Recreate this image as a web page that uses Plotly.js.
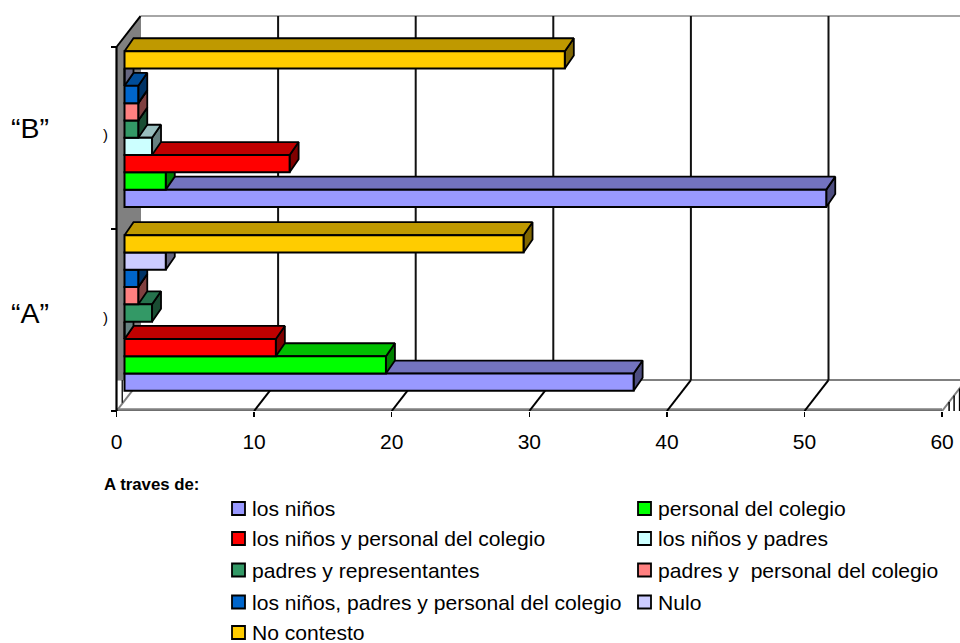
<!DOCTYPE html>
<html>
<head>
<meta charset="utf-8">
<script src="https://cdn.plot.ly/plotly-3.0.1.min.js"></script>
<style>html,body{margin:0;padding:0;background:#fff}</style>
</head>
<body>
<div id="chart" style="width:960px;height:643px"></div>
<script>
// Survey answers for two groups: positions on the category axis, then one array per answer [A, B]
const groupLabels = ['“A”', '“B”'];
const losNinos = [37, 51];
const personalColegio = [19, 3];
const ninosPersonal = [11, 12];
const ninosPadres = [0, 2];
const padresRepresentantes = [2, 1];
const padresPersonal = [1, 1];
const ninosPadresPersonal = [1, 1];
const nulo = [3, 0];
const noContesto = [29, 32];

const seriesNames = ['los niños', 'personal del colegio', 'los niños y personal del colegio',
  'los niños y padres', 'padres y representantes', 'padres y  personal del colegio',
  'los niños, padres y personal del colegio', 'Nulo', 'No contesto'];
const seriesValues = [losNinos, personalColegio, ninosPersonal, ninosPadres,
  padresRepresentantes, padresPersonal, ninosPadresPersonal, nulo, noContesto];
const seriesColors = ['#9999FF', '#00FF00', '#FF0000', '#CCFFFF', '#339966',
  '#FF8080', '#0066CC', '#CCCCFF', '#FFCC00'];
const xTicks = [0, 10, 20, 30, 40, 50, 60];

// Page and axis geometry
const W = 960, H = 643;
const plotBottom = 411;
const pxPerX = 13.76, pxPerY = 182;
const x0px = 116.5;
const xRange = [-x0px / pxPerX, (W - x0px) / pxPerX];
const yRange = [0, plotBottom / pxPerY];
const groupPos = [0.5385, 1.549];
const barThickness = 17.3 / pxPerY;
const wallDx = 24 / pxPerX, wallDy = 0.17;     // depth of the box
const barInset = 8 / pxPerX;                   // bars stand slightly inside the box
const barDx = 9 / pxPerX, barDy = 13 / pxPerY; // depth of each bar

const shade = (hex, f) => {
  const n = parseInt(hex.slice(1), 16);
  const c = [n >> 16, (n >> 8) & 255, n & 255].map(v => Math.round(v * f));
  return `rgb(${c[0]},${c[1]},${c[2]})`;
};

const segment = (xs, ys, color, width) => ({
  type: 'scatter', mode: 'lines', x: xs, y: ys, xaxis: 'x', yaxis: 'y',
  line: {color, width}, hoverinfo: 'skip', showlegend: false, cliponaxis: false
});

const polygons = (xs, ys, fill) => ({
  type: 'scatter', mode: 'lines', x: xs, y: ys, xaxis: 'x', yaxis: 'y', fill: 'toself',
  fillcolor: fill, line: {color: '#000', width: 1.8}, hoverinfo: 'skip', showlegend: false,
  cliponaxis: false
});

const traces = [];

// Box: grey side wall, back wall edges, floor
traces.push(polygons([0, 0, wallDx, wallDx, 0], [wallDy, 2, 2 + wallDy, wallDy, wallDy], '#808080'));
traces[0].line = {color: '#808080', width: 1};
const xEnd = 60 + wallDx;
traces.push(segment([wallDx, xEnd], [2 + wallDy, 2 + wallDy], '#A6A6A6', 2));
traces.push(segment([0, 60], [0.009, 0.009], '#808080', 2));
traces.push(segment([wallDx, xEnd], [wallDy, wallDy], '#808080', 2));
xTicks.forEach(v => {
  const edge = v === 0 || v === 60;
  traces.push(segment([v, v + wallDx], [0, wallDy], edge ? '#808080' : '#000', 2));
  if (!edge) traces.push(segment([v + wallDx, v + wallDx], [wallDy, 2 + wallDy], '#111', 2));
});
[7, 12, 17.5].forEach(px => {
  const d = px / pxPerX;
  traces.push(segment([60 + d, 60 + d], [0, wallDy * d / wallDx], '#000', 1.5));
});
traces.push(segment([0, 0], [0, 2], '#000', 2.2));
traces.push(segment([0, wallDx], [2, 2 + wallDy], '#000', 2));
traces.push(segment([0.42, 0.42], [wallDy, 0.045], '#222', 1.5));
traces.push(segment([0, 60], [-0.003, -0.003], '#000', 2.2));

// Top and side faces of every bar, lowest series first so higher ones overlap correctly
seriesValues.forEach((vals, s) => {
  const topX = [], topY = [], sideX = [], sideY = [];
  vals.forEach((v, g) => {
    const yb = groupPos[g] + (s - 4.5) * barThickness;
    const yt = yb + barThickness;
    const xl = barInset, xr = barInset + v;
    topX.push(xl, xl + barDx, xr + barDx, xr, xl, null);
    topY.push(yt, yt + barDy, yt + barDy, yt, yt, null);
    sideX.push(xr, xr + barDx, xr + barDx, xr, xr, null);
    sideY.push(yt, yt + barDy, yb + barDy, yb, yt, null);
  });
  traces.push(polygons(sideX, sideY, shade(seriesColors[s], 0.5)));
  traces.push(polygons(topX, topY, shade(seriesColors[s], 0.75)));
});

// Front faces as grouped bars on the overlaid axes
seriesValues.forEach((vals, s) => {
  traces.push({
    type: 'bar', orientation: 'h', name: seriesNames[s], x: vals, y: groupPos,
    xaxis: 'x2', yaxis: 'y2', marker: {color: seriesColors[s], line: {color: '#000', width: 2}},
    showlegend: false, hovertemplate: '%{x}<extra>' + seriesNames[s] + '</extra>'
  });
});

// Legend rows laid out in two columns, with a heading above
const legendCols = [232, 638];
const legendRows = [508.5, 538.5, 570, 602, 632.5];
const paperX = px => px / W;
const paperY = py => 1 - py / H;
const shapes = [];
const annotations = [];
seriesNames.forEach((name, i) => {
  const cx = legendCols[i % 2], cy = legendRows[Math.floor(i / 2)];
  shapes.push({
    type: 'rect', xref: 'paper', yref: 'paper', layer: 'above',
    x0: paperX(cx), x1: paperX(cx + 13), y0: paperY(cy - 6.5), y1: paperY(cy + 6.5),
    fillcolor: seriesColors[i], line: {color: '#000', width: 1.8}
  });
  annotations.push({
    xref: 'paper', yref: 'paper', x: paperX(cx + 21), y: paperY(cy), text: name,
    showarrow: false, xanchor: 'left', yanchor: 'middle', xshift: -3,
    font: {family: 'Liberation Sans, Arial, sans-serif', size: 21.1, color: '#000'}
  });
});
annotations.push({
  xref: 'paper', yref: 'paper', x: paperX(105), y: paperY(484), text: '<b>A traves de:</b>',
  showarrow: false, xanchor: 'left', yanchor: 'middle', xshift: -3,
  font: {family: 'Liberation Sans, Arial, sans-serif', size: 16.8, color: '#000'}
});
groupLabels.forEach((label, g) => {
  annotations.push({
    xref: 'paper', yref: 'paper', x: paperX(30), y: paperY(g === 0 ? 313 : 128), text: label,
    showarrow: false, xanchor: 'center', yanchor: 'middle',
    font: {family: 'Liberation Sans, Arial, sans-serif', size: 28.5, color: '#000'}
  });
  annotations.push({
    xref: 'paper', yref: 'paper', x: paperX(105), y: paperY(g === 0 ? 317 : 134), text: ')',
    showarrow: false, xanchor: 'center', yanchor: 'middle',
    font: {family: 'Liberation Sans, Arial, sans-serif', size: 15, color: '#000'}
  });
});

const yDomain = [(H - plotBottom) / H, 1];
const layout = {
  width: W, height: H, margin: {l: 0, r: 0, t: 0, b: 0},
  paper_bgcolor: '#fff', plot_bgcolor: 'rgba(0,0,0,0)', showlegend: false,
  barmode: 'group', bargap: 0.1534, bargroupgap: 0,
  font: {family: 'Liberation Sans, Arial, sans-serif', color: '#000'},
  xaxis: {
    range: xRange, tickvals: xTicks, ticktext: xTicks.map(String), showgrid: false, zeroline: false,
    showline: false, ticks: 'outside', ticklen: 5, tickwidth: 1.5, tickcolor: '#000',
    tickfont: {size: 21, color: '#000'}, ticklabelstandoff: 7, anchor: 'y'
  },
  yaxis: {
    range: yRange, domain: yDomain, tickvals: [0, 1, 2], ticktext: ['', '', ''], showgrid: false,
    zeroline: false, showline: false, ticks: 'outside', ticklen: 6, tickwidth: 1.5, tickcolor: '#000',
    anchor: 'free', position: x0px / W
  },
  xaxis2: {
    range: [xRange[0] - barInset, xRange[1] - barInset], overlaying: 'x', anchor: 'y2', visible: false
  },
  yaxis2: {range: yRange, domain: yDomain, overlaying: 'y', anchor: 'x2', visible: false},
  shapes, annotations
};

Plotly.newPlot('chart', traces, layout, {displayModeBar: false, staticPlot: true});
</script>
</body>
</html>
